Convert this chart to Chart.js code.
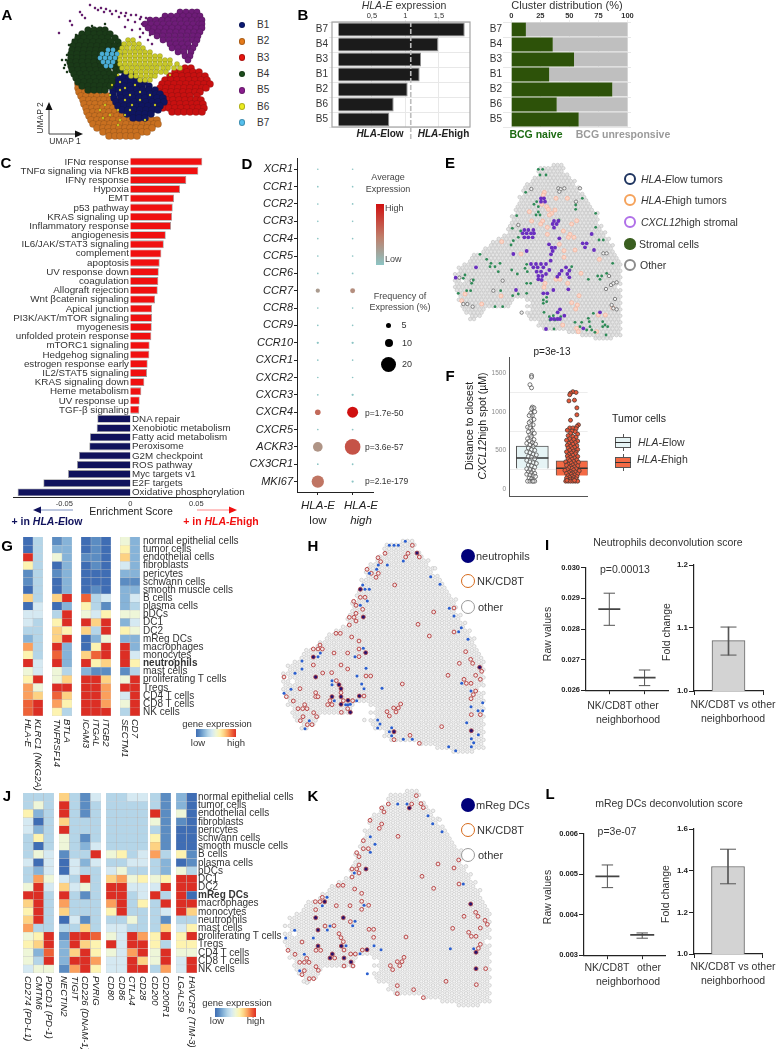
<!DOCTYPE html>
<html>
<head>
<meta charset="utf-8">
<script src="https://cdn.jsdelivr.net/npm/chart.js@4"></script>
<style>
body { margin: 0; background: #fff; }
#page { position: relative; width: 779px; height: 1049px; overflow: hidden; font-family: "Liberation Sans", Arial, sans-serif; color: #222; }
#page canvas { position: absolute; }
.t { position: absolute; white-space: nowrap; line-height: 1; }
.d { position: absolute; box-sizing: border-box; border-radius: 50%; }
.r { position: absolute; box-sizing: border-box; }
</style>
</head>
<body>
<div id="page"></div>
<script>
// ---- A: UMAP, rows of [umap2, umap1, umap1, ...]
const umapB1 = [[74,125,131],[78,117,123,129,135],[82,113,119,125,131,137,144],[86,112,118,124,130,136,142,149],[90,113,119,125,131,137,143,149,155],[94,113,120,126,132,138,144,150,156,160],[98,114,121,127,133,139,145,151,157,163],[102,116,122,128,134,140,146,152,158,164],[106,118,124,130,136,142,148,154,160],[110,122,128,134,140,146,152,158],[114,127,133,139,145,151],[118,133,139,145]];
const umapB2 = [[84,78,82],[88,78,83,88],[92,79,85,90,96],[96,81,86,92,97,103,108],[100,83,89,94,100,104,110,115],[104,84,90,95,101,106,110,116,121],[108,86,92,97,103,108,113,118,124],[112,87,93,98,104,109,115,120,124,129],[116,89,95,100,106,111,117,122,128,133,139],[120,91,97,102,108,113,119,124,130,135,141,147,152,157],[124,93,99,104,110,115,121,126,132,137,143,148,154,158],[128,97,103,108,114,119,125,130,136,141,147,152],[132,103,109,114,120,125,131,136,142,147],[136,109,115,120,126,131,137]];
const umapB3 = [[68,185,191],[72,175,181,187,193,199],[76,170,176,182,188,194,200,205],[80,165,171,177,183,189,195,201,207],[84,162,168,174,180,186,192,198,204,210],[88,160,166,172,178,184,190,196,202,206],[92,159,165,171,177,183,189,195,200],[96,160,166,172,178,184,190,197],[100,161,167,173,179,185,191,196,201],[104,162,168,174,180,186,192,197,203],[108,163,169,175,181,187,193,198,204],[112,172,178,184,190,196,202]];
const umapB4 = [[30,88,94,100,105],[34,82,88,94,100,106,110],[38,78,84,90,96,102,108,115],[42,75,81,87,93,99,105,111,118],[46,73,79,85,91,97,103,109,115,120],[50,72,78,84,90,96,102,108,114,118],[54,71,77,83,89,95,101,107,113,119],[58,71,77,83,89,95,101,106,112,118],[62,70,76,82,88,94,100,105,112,118],[66,71,77,83,89,95,101,107,114,119],[70,72,78,84,90,96,102,108,116,120],[74,74,80,86,92,98,104,110,115],[78,76,82,88,94,100,106,112],[82,78,84,90,96,102,108,112],[86,82,88,94,100,106,110],[90,88,94,100,105]];
const umapB4Stray = [[60,62,66],[65,65],[72,67],[45,69],[35,76],[26,92],[24,105],[55,67],[40,73],[68,64]];
const umapB5 = [[12,180,186,192,197],[16,165,171,177,183,189,195,200],[20,150,156,162,168,174,180,186,192,198,202],[24,145,151,157,163,169,175,181,187,193,199,202],[28,148,154,160,166,172,178,184,190,196,202],[32,152,158,164,170,176,182,188,194,200],[36,157,163,169,175,181,187,193,198],[40,163,169,175,181,187,193,197],[44,170,176,182,188,195],[48,172,178,184,190,193],[52,178,184,191],[56,185,190],[60,188]];
const umapB5Stray = [[8,95,101],[9,106],[11,110,116],[13,121,126],[15,131,136],[17,119,141],[18,146],[20,128],[22,135],[24,142],[27,125],[30,132],[33,143],[40,148],[44,152],[5,90],[15,82],[21,70],[33,59],[12,80],[18,85],[25,72],[10,98],[12,104],[14,112],[16,125],[19,140],[29,140],[37,140],[35,150]];
const umapB6 = [[40,128,133],[44,124,129,134,139],[48,122,127,133,138,143],[52,120,125,130,135,140,145,150],[56,120,125,130,135,140,145,150,155,160],[60,120,125,130,135,140,145,150,155,160,165,170],[64,120,125,130,135,140,145,150,155,160,165,170,177],[68,122,127,132,137,142,147,152,157,163,168,174,180],[72,126,131,136,141,146,151,156,161,166],[76,131,136,141,146,151,155],[80,140,145,150]];
const umapB6Stray = [[75,118],[85,112],[95,110],[90,120],[100,125],[105,105],[110,118],[95,130],[100,140],[120,120],[115,110],[110,130],[110,100],[85,135],[95,150],[105,155],[75,170],[120,145],[115,125],[88,125],[92,140],[105,132],[125,118],[118,103],[82,120]];
const umapB7 = [[50,108,113],[54,102,107,112,117],[58,100,105,110,115],[62,103,108,113],[66,106,111]];
const umapNames = ['B1', 'B2', 'B3', 'B4', 'B5', 'B6', 'B7'];

// ---- B
const bClusters = ['B7', 'B4', 'B3', 'B1', 'B2', 'B6', 'B5'];
const hlaEExpr = [1.885, 1.49, 1.233, 1.213, 1.034, 0.825, 0.76];
const hlaECut = 1.08;
const bcgNaive = [12.6, 35.7, 54, 32.6, 86.9, 39.1, 58];

// ---- C
const upPathways = ['IFNα response', 'TNFα signaling via NFkB', 'IFNγ response', 'Hypoxia', 'EMT', 'p53 pathway', 'KRAS signaling up', 'Inflammatory response', 'angiogenesis', 'IL6/JAK/STAT3 signaling', 'complement', 'apoptosis', 'UV response down', 'coagulation', 'Allograft rejection', 'Wnt βcatenin signaling', 'Apical junction', 'PI3K/AKT/mTOR signaling', 'myogenesis', 'unfolded protein response', 'mTORC1 signaling', 'Hedgehog signaling', 'estrogen response early', 'IL2/STAT5 signaling', 'KRAS signaling down', 'Heme metabolism', 'UV response up', 'TGF-β signaling'];
const upScores = [0.0545, 0.0515, 0.0424, 0.0376, 0.0331, 0.0321, 0.0316, 0.0308, 0.0268, 0.0253, 0.0235, 0.0222, 0.0215, 0.0212, 0.0207, 0.0187, 0.0164, 0.0164, 0.0162, 0.0159, 0.0146, 0.0144, 0.0131, 0.0126, 0.0106, 0.0083, 0.0071, 0.0068];
const downPathways = ['DNA repair', 'Xenobiotic metabolism', 'Fatty acid metabolism', 'Peroxisome', 'G2M checkpoint', 'ROS pathway', 'Myc targets v1', 'E2F targets', 'Oxidative phosphorylation'];
const downScores = [-0.025, -0.0255, -0.0306, -0.0311, -0.0389, -0.0404, -0.0472, -0.0659, -0.0854];

// ---- D
const dGenes = ['XCR1', 'CCR1', 'CCR2', 'CCR3', 'CCR4', 'CCR5', 'CCR6', 'CCR7', 'CCR8', 'CCR9', 'CCR10', 'CXCR1', 'CXCR2', 'CXCR3', 'CXCR4', 'CXCR5', 'ACKR3', 'CX3CR1', 'MKI67'];
const freqLow = [0.1, 0.1, 0.1, 0.1, 0.1, 0.1, 0.1, 4, 0.1, 0.1, 1, 0.1, 0.1, 0.3, 6, 0.1, 12, 0.2, 16];
const freqHigh = [0.1, 0.1, 0.2, 0.1, 0.1, 0.1, 0.3, 5, 0.1, 0.1, 1, 0.1, 0.1, 1, 14, 0.3, 21, 0.3, 1];
const exprLow = [0, 0, 0, 0, 0, 0, 0, 0.3, 0, 0, 0, 0, 0, 0, 0.6, 0, 0.35, 0, 0.55];
const exprHigh = [0, 0, 0, 0, 0, 0, 0, 0.4, 0, 0, 0, 0, 0, 0, 1, 0, 0.7, 0, 0];

// ---- E / H / K: Visium array. spans per row as [first col, last col, ...]
const tissueRows = [[26,28],[22,28],[22,24,25,28],[22,24,25,29],[21,30],[20,31],[19,31],[18,32],[18,32],[18,33],[17,34],[17,34],[17,35],[16,35],[16,36],[16,37],[15,37],[15,37],[15,37],[14,38],[14,38],[14,39],[13,39],[11,40],[10,40],[9,41],[8,41],[7,41],[5,42],[4,42],[4,43],[2,43],[1,43],[1,43],[0,43],[1,43],[0,1,3,43],[0,43],[0,42],[0,43],[1,43],[1,43],[1,15,19,43],[2,14,20,43],[2,14,19,43],[2,7,20,43],[3,7,19,43],[4,6,19,43],[4,5,20,43],[22,43],[22,43],[23,43],[30,43],[33,43],[37,41]];
const eGreen = [[325,58],[338,58],[330,75],[348,75],[287,127],[320,155],[312,163],[325,170],[325,186],[318,195],[330,195],[260,197],[247,235],[272,243],[265,262],[250,272],[243,285],[150,313],[170,328],[183,340],[195,350],[210,340],[180,350],[205,365],[130,390],[125,400],[105,375],[100,385],[85,430],[110,422],[122,422],[245,360],[262,372],[290,343],[285,355],[292,365],[290,400],[302,400],[265,432],[290,430],[212,422],[248,437],[340,450],[350,442],[350,455],[340,460],[195,470],[218,470],[342,487],[358,500],[370,497],[385,507],[392,500],[437,165],[437,178],[457,145],[497,190],[497,232],[507,270],[520,270],[475,388],[503,378],[515,378],[510,388],[548,340],[530,370],[420,360],[425,350],[475,505],[478,515],[455,517],[480,530],[470,540],[485,540],[495,547],[528,555],[518,515],[525,525],[533,530],[518,530],[372,537],[490,490],[435,517],[450,530],[387,210],[375,510],[360,510]];
const ePurple = [[333,145],[342,145],[333,155],[345,155],[372,213],[385,213],[368,222],[380,222],[372,233],[283,240],[295,240],[310,240],[278,250],[290,250],[303,250],[312,250],[283,262],[295,262],[308,262],[388,265],[357,283],[365,293],[375,293],[368,303],[363,313],[362,332],[290,303],[250,312],[138,352],[77,383],[458,280],[470,280],[465,292],[485,252],[492,300],[303,342],[318,342],[333,342],[348,342],[310,352],[323,352],[340,352],[358,360],[320,365],[333,365],[348,372],[325,378],[337,378],[325,388],[335,390],[408,352],[395,362],[418,362],[388,372],[412,372],[382,380],[418,382],[258,420],[340,430],[352,430],[370,420],[415,418],[390,478],[383,487],[403,497],[363,507],[372,507],[382,507],[390,507],[348,537],[460,535],[510,487]];
const ePink = [[343,127],[340,135],[378,145],[412,145],[335,163],[350,170],[355,178],[375,180],[365,190],[358,195],[298,185],[305,213],[338,213],[332,222],[352,232],[425,222],[440,212],[400,243],[352,253],[420,253],[415,262],[432,262],[388,283],[215,275],[273,312],[402,302],[435,300],[402,322],[508,328],[453,370],[378,388],[390,388],[345,400],[342,412],[413,400],[213,438],[105,432],[95,452],[155,462],[425,458],[447,437],[442,465],[437,477],[505,495],[526,495],[548,473],[398,525],[440,535],[445,545],[500,545]];
const eGray = [[304,117],[385,115],[392,118],[403,115],[388,125],[438,155],[265,225],[218,392],[190,422],[88,383],[100,462],[112,462],[128,470],[125,392],[520,310],[530,310],[537,378],[528,417],[543,405],[550,400],[560,397],[555,447],[545,465],[550,475],[560,478],[275,488],[450,115]];
const hBlue = [[358,46],[372,46],[385,46],[406,34],[400,93],[352,105],[325,105],[298,130],[320,118],[278,165],[298,178],[285,178],[292,213],[271,226],[482,140],[510,163],[538,235],[552,258],[574,293],[566,305],[594,328],[280,355],[255,380],[151,369],[144,380],[96,393],[96,417],[75,430],[288,415],[261,438],[275,462],[186,452],[186,464],[63,478],[42,490],[282,476],[336,475],[193,512],[234,524],[227,524],[241,523],[260,512],[118,572],[105,596],[323,570],[330,582],[323,594],[365,593],[358,605],[365,617],[400,628],[427,628],[536,650],[557,662],[604,650],[611,638],[604,626],[625,614],[590,578],[603,530],[575,460],[603,483],[638,518],[624,542],[638,542]];
const hBoth = [[441,69],[271,178],[280,261],[287,368],[130,381],[137,441],[207,464],[213,476],[186,500],[213,500],[268,498],[234,511],[213,523],[241,547],[372,605],[604,602],[629,412]];
const hRing = [[427,46],[345,70],[414,70],[407,81],[448,81],[324,83],[332,95],[291,118],[304,130],[325,130],[318,142],[374,165],[271,202],[285,202],[251,214],[258,226],[278,238],[258,250],[238,262],[252,262],[258,273],[238,285],[198,310],[211,310],[245,321],[267,333],[267,357],[150,345],[130,357],[144,357],[157,357],[192,369],[233,369],[267,380],[130,405],[213,405],[233,417],[185,428],[158,429],[42,441],[288,438],[302,438],[199,452],[90,476],[397,462],[213,488],[137,488],[137,500],[144,500],[49,500],[70,513],[180,512],[173,524],[186,524],[220,512],[248,512],[282,498],[104,524],[84,536],[98,536],[111,536],[233,536],[131,548],[214,547],[99,560],[140,560],[91,572],[112,584],[126,584],[392,522],[371,534],[385,534],[378,546],[351,545],[358,558],[491,246],[552,234],[444,283],[478,318],[552,306],[587,365],[602,388],[608,400],[568,400],[635,424],[617,436],[534,436],[582,448],[589,460],[603,460],[631,448],[617,483],[610,494],[603,506],[631,554],[604,554],[515,590],[420,616],[372,629],[448,640]];
const hStray = [[495,115],[283,570]];
const kBlue = [[383,42],[411,42],[474,77],[488,101],[516,125],[301,140],[315,163],[301,187],[253,249],[580,282],[171,322],[282,346],[157,347],[255,394],[248,407],[180,408],[172,420],[130,444],[74,421],[47,444],[228,467],[312,467],[333,479],[270,491],[103,493],[89,542],[292,551],[541,476],[611,476]];
const kBoth = [[418,54],[288,237],[164,335],[137,383],[220,383],[144,420],[144,468],[214,468],[291,479],[187,492],[180,504],[222,504],[243,516],[602,342],[618,487],[618,536]];
const kRing = [[439,17],[425,42],[453,41],[460,53],[355,42],[335,54],[342,66],[300,91],[335,102],[328,115],[384,139],[280,152],[280,176],[295,176],[260,188],[267,200],[267,225],[246,237],[260,237],[267,249],[246,261],[504,222],[552,234],[566,210],[456,259],[491,295],[567,282],[205,286],[219,286],[254,297],[275,310],[157,322],[136,335],[150,335],[275,334],[199,347],[240,347],[296,346],[137,359],[275,358],[241,395],[192,407],[165,408],[311,418],[297,418],[207,431],[213,443],[311,442],[408,441],[96,456],[220,455],[222,480],[54,481],[138,481],[152,481],[277,480],[75,493],[242,492],[256,492],[194,504],[110,505],[89,517],[103,517],[117,517],[222,528],[249,528],[138,530],[103,542],[145,541],[96,554],[118,566],[131,566],[402,502],[382,515],[396,515],[389,527],[361,527],[368,539],[528,574],[382,587],[431,599],[382,611],[460,623],[647,536],[619,584],[617,367],[624,379],[582,379],[645,391],[652,403],[631,414],[548,415],[596,427],[604,439],[618,439],[631,463],[625,475]];
const kStray = [[509,89],[111,578]];

// ---- F
const fTicks = [0, 500, 1000, 1500];
const fBoxLow = [264, 400, 556];
const fBoxHigh = [172, 268, 364];
const fWhiskLow = [100, 1060];
const fWhiskHigh = [100, 790];
const fPointsLow = [[0.98,1470],[0.98,1450],[0.94,1350],[0.98,1310],[1.0,1060],[1.04,1050],[0.98,1040],[1.06,1000],[0.96,980],[1.0,950],[0.92,950],[1.04,900],[0.96,880],[0.92,860],[1.02,830],[0.88,800],[0.94,790],[1.0,760],[0.9,740],[1.05,720],[0.94,700],[0.98,680],[0.88,650],[1.04,640],[0.92,620],[1.0,600],[0.86,590],[1.08,580],[0.94,570],[1.02,550],[0.9,530],[0.98,510],[1.06,500],[0.86,480],[0.94,470],[1.02,450],[1.1,440],[0.9,420],[0.98,410],[1.06,390],[0.86,370],[0.94,350],[1.02,340],[1.1,330],[0.9,310],[0.98,300],[1.06,280],[0.86,260],[0.94,250],[1.02,240],[0.9,220],[0.98,210],[1.06,200],[0.86,190],[0.94,180],[1.02,170],[1.08,160],[0.92,140],[0.98,130],[0.88,100],[0.94,100],[1.0,100],[1.06,100],[1.02,100]];
const fPointsHigh = [[2.02,1260],[2.1,1250],[1.96,1240],[1.94,1220],[1.92,1140],[2.06,1150],[2.12,1050],[2.12,960],[1.96,890],[2.16,830],[2.12,810],[1.94,790],[2.02,790],[2.1,780],[1.88,760],[2.0,750],[2.08,740],[1.96,720],[2.14,710],[1.9,690],[2.02,680],[2.1,670],[1.94,650],[2.04,640],[1.86,630],[2.14,620],[1.98,610],[2.08,600],[1.92,590],[2.02,580],[1.88,565],[2.12,560],[1.96,550],[2.06,540],[1.9,530],[2.0,520],[2.14,510],[1.94,500],[2.04,490],[1.86,480],[2.1,475],[1.98,465],[2.08,455],[1.92,445],[2.02,435],[1.88,425],[2.14,420],[1.96,410],[2.06,400],[1.9,390],[2.0,385],[2.12,375],[1.94,365],[2.04,355],[1.84,350],[2.16,345],[1.98,335],[2.08,325],[1.9,320],[2.02,310],[1.86,305],[2.14,300],[1.96,290],[2.06,285],[1.92,275],[2.0,265],[2.1,260],[1.88,250],[2.04,245],[1.82,240],[2.18,235],[1.96,225],[2.08,220],[1.92,210],[2.02,205],[1.86,200],[2.14,195],[1.98,190],[2.06,180],[1.9,170],[2.0,165],[2.12,160],[1.94,150],[2.04,145],[1.86,140],[2.1,130],[1.96,125],[2.02,120],[1.84,100],[1.9,100],[1.96,100],[2.02,100],[2.08,100],[2.14,100],[1.87,110],[2.06,110]];

// ---- G / J heatmaps: one colour level (0 blue .. 10 red) per cell type
const cellTypes = ['normal epithelial cells', 'tumor cells', 'endothelial cells', 'fibroblasts', 'pericytes', 'schwann cells', 'smooth muscle cells', 'B cells', 'plasma cells', 'pDCs', 'DC1', 'DC2', 'mReg DCs', 'macrophages', 'monocytes', 'neutrophils', 'mast cells', 'proliferating T cells', 'Tregs', 'CD4 T cells', 'CD8 T cells', 'NK cells'];
const HLAE    = [0,0,10,6,1,1,0,7,0,4,4,3,2,8,6,10,5,6,8,8,9,9];
const KLRC1   = [3,3,3,3,3,3,3,3,4,4,3,3,3,3,3,4,4,10,5,7,10,10];
const TNFRSF14 = [1,2,5,0,1,0,0,7,0,3,6,7,7,10,9,10,5,5,10,9,8,6];
const BTLA    = [2,2,2,2,2,2,2,10,2,10,10,6,10,2,2,2,3,7,10,7,6,3];
const ICAM3   = [0,0,1,0,0,0,0,9,6,5,10,7,0,0,7,10,2,10,10,10,10,10];
const ITGAL   = [1,1,1,1,0,0,1,3,3,4,7,3,2,6,9,6,1,10,10,10,10,10];
const ITGB2   = [0,0,0,0,0,0,0,4,1,6,10,10,5,10,10,7,1,7,8,8,8,10];
const SECTM1  = [5,6,7,4,2,1,2,2,2,5,2,6,2,10,10,10,1,5,10,4,5,3];
const CD7     = [2,2,2,2,2,1,2,4,3,5,4,5,2,2,4,6,3,10,10,10,10,10];
const CD274   = [3,3,6,4,4,3,3,3,4,3,3,5,10,7,6,7,8,5,6,5,5,4];
const CMTM6   = [3,5,2,0,2,6,0,5,0,2,8,10,10,10,10,10,3,6,7,2,3,5];
const PDCD1   = [3,3,3,3,3,3,3,4,4,4,5,4,3,3,3,3,3,10,10,9,10,5];
const NECTIN2 = [7,10,10,7,10,5,5,1,0,0,4,7,10,8,7,0,3,1,2,2,2,1];
const TIGIT   = [3,3,3,3,3,3,3,3,4,4,3,4,3,3,3,4,3,10,10,7,10,8];
const CD226   = [1,1,1,3,3,1,2,3,2,3,10,5,1,3,3,1,7,10,7,10,10,10];
const PVRIG   = [4,3,3,3,3,3,4,10,4,3,3,3,3,3,3,3,3,9,6,6,8,6];
const CD80    = [3,3,3,3,3,3,3,5,3,4,7,10,10,8,6,3,4,5,10,5,4,4];
const CD86    = [3,3,3,3,3,3,3,6,3,5,8,10,10,10,10,3,4,4,4,4,4,4];
const CTLA4   = [4,3,3,3,3,3,3,3,4,3,5,4,3,3,3,5,3,10,10,8,10,10];
const CD28    = [4,3,3,3,3,3,3,4,4,3,6,4,4,6,3,3,3,8,10,10,7,10];
const CD200   = [3,3,10,5,3,6,7,8,3,3,5,4,10,3,3,3,3,6,6,5,5,3];
const CD200R1 = [1,1,1,1,1,1,1,3,2,2,6,10,3,10,4,1,7,10,3,10,10,8];
const LGALS9  = [2,2,5,1,0,0,0,6,0,5,10,10,10,10,10,3,4,6,6,5,4,4];
const HAVCR2  = [0,0,0,0,0,0,0,1,1,3,10,10,0,10,7,3,6,10,6,5,10,10];
const heatColors = ['#3f6db4', '#5b8cc2', '#86b3d8', '#b4d5e8', '#d5e9f2', '#eef6d8', '#fdf3b0', '#fdd283', '#fb9f5c', '#ee6238', '#dc2e24'];

// ---- I / L
const iRaw = [0.02865, 0.02641];
const iRawLo = [0.02812, 0.02615];
const iRawHi = [0.02917, 0.02666];
const iFold = [1.08, 1.057, 1.1015];
const lRaw = [0.00495, 0.0035];
const lRawLo = [0.00467, 0.00342];
const lRawHi = [0.00523, 0.00355];
const lFold = [1.42, 1.337, 1.503];

// ---- helpers
const page = document.getElementById('page');
const PAD = 12;
Chart.defaults.font.family = '"Liberation Sans", Arial, sans-serif';

function txt(html, x, y, o) {
    o = o || {};
    const e = document.createElement('div');
    e.className = 't';
    e.innerHTML = html;
    e.style.left = x + 'px';
    e.style.top = y + 'px';
    e.style.fontSize = (o.size || 10) + 'px';
    if (o.color) e.style.color = o.color;
    if (o.bold) e.style.fontWeight = 'bold';
    if (o.italic) e.style.fontStyle = 'italic';
    if (o.start) {
        // rotated text that starts at x,y and runs downward
        e.style.transformOrigin = '0 50%';
        e.style.transform = 'translateY(-50%) rotate(90deg)';
    } else {
        const shift = o.align === 'l' ? '0' : o.align === 'r' ? '-100%' : '-50%';
        e.style.transform = 'translate(' + shift + ',-50%)' + (o.rotate ? ' rotate(' + o.rotate + 'deg)' : '');
    }
    page.appendChild(e);
}
function dot(x, y, r, fill, border, bw) {
    const e = document.createElement('div');
    e.className = 'd';
    e.style.cssText = 'left:' + (x - r) + 'px;top:' + (y - r) + 'px;width:' + 2 * r + 'px;height:' + 2 * r + 'px;background:' + fill + ';' + (border ? 'border:' + bw + 'px solid ' + border + ';' : '');
    page.appendChild(e);
}
function rect(x, y, w, h, css) {
    const e = document.createElement('div');
    e.className = 'r';
    e.style.cssText = 'left:' + x + 'px;top:' + y + 'px;width:' + w + 'px;height:' + h + 'px;' + css;
    page.appendChild(e);
}
function arrow(x1, y1, x2, y2, color, lineColor) {
    const ns = 'http://www.w3.org/2000/svg';
    const s = document.createElementNS(ns, 'svg');
    s.setAttribute('width', 779);
    s.setAttribute('height', 1049);
    s.style.cssText = 'position:absolute;left:0;top:0';
    const a = Math.atan2(y2 - y1, x2 - x1);
    const l = document.createElementNS(ns, 'line');
    l.setAttribute('x1', x1); l.setAttribute('y1', y1);
    l.setAttribute('x2', x2 - 6 * Math.cos(a)); l.setAttribute('y2', y2 - 6 * Math.sin(a));
    l.setAttribute('stroke', lineColor || color); l.setAttribute('stroke-width', 1);
    const p = document.createElementNS(ns, 'polygon');
    const pts = [[x2, y2], [x2 - 8 * Math.cos(a) + 3.5 * Math.sin(a), y2 - 8 * Math.sin(a) - 3.5 * Math.cos(a)], [x2 - 8 * Math.cos(a) - 3.5 * Math.sin(a), y2 - 8 * Math.sin(a) + 3.5 * Math.cos(a)]];
    p.setAttribute('points', pts.map(q => q.join(',')).join(' '));
    p.setAttribute('fill', color);
    s.appendChild(l); s.appendChild(p);
    page.appendChild(s);
}
// plot area is given in page pixels, a = room for the axes on left/top/bottom
function place(l, t, r, b, a, cfg) {
    l = Math.round(l); t = Math.round(t); r = Math.round(r); b = Math.round(b);
    const L = a.l || 0, T = a.t || 0, B = a.b || 0;
    const c = document.createElement('canvas');
    c.width = r - l + 2 * PAD + L;
    c.height = b - t + 2 * PAD + T + B;
    c.style.left = (l - PAD - L) + 'px';
    c.style.top = (t - PAD - T) + 'px';
    page.appendChild(c);
    cfg.options = Object.assign({
        responsive: false,
        animation: false,
        layout: { padding: PAD },
        plugins: { legend: { display: false }, tooltip: { enabled: false } }
    }, cfg.options);
    return new Chart(c, cfg);
}
// scale pixels are relative to the canvas, labels live on the page
function pageX(ch, v) { return ch.canvas.offsetLeft + ch.scales.x.getPixelForValue(v); }
function pageY(ch, v) { return ch.canvas.offsetTop + ch.scales.y.getPixelForValue(v); }
function fit(size) {
    return s => { if (s.isHorizontal()) s.height = size; else s.width = size; };
}
function blank(min, max, reverse) {
    return { type: 'linear', min: min, max: max, reverse: !!reverse, ticks: { display: false }, grid: { display: false }, border: { display: false }, afterFit: fit(0) };
}
function pairs(list) { return list.map(p => ({ x: p[0], y: p[1] })); }
function rows(list) {
    const out = [];
    list.forEach(row => row.slice(1).forEach(x => out.push({ x: x, y: row[0] })));
    return out;
}
// teal -> brown -> red, same ramp as the legend bar in D
function exprColor(t) {
    const a = [140, 196, 196], m = [190, 128, 108], b = [208, 16, 16];
    const from = t < 0.5 ? a : m, to = t < 0.5 ? m : b, f = t < 0.5 ? t * 2 : t * 2 - 1;
    return 'rgb(' + from.map((v, i) => Math.round(v + (to[i] - v) * f)).join(',') + ')';
}
const frame = color => ({
    id: 'frame',
    afterDraw(chart) {
        const a = chart.chartArea, c = chart.ctx;
        c.save();
        c.strokeStyle = color;
        c.lineWidth = 1.2;
        c.strokeRect(a.left, a.top, a.right - a.left, a.bottom - a.top);
        c.restore();
    }
});

// ---- A
function umapSet(list, fill, r) {
    return { data: rows(list), pointRadius: r, pointBackgroundColor: fill, pointBorderColor: 'rgba(20,20,20,.35)', pointBorderWidth: 0.4 };
}
place(50, 0, 220, 145, {}, {
    type: 'scatter',
    data: { datasets: [
        umapSet(umapB7, '#4bb0d8', 2.4),
        umapSet(umapB6Stray, '#d8d820', 1.2),
        umapSet(umapB6, '#c8c828', 2.6),
        umapSet(umapB5Stray, '#6e1c78', 1.2),
        umapSet(umapB5, '#6e1c78', 3.2),
        umapSet(umapB4Stray, '#1a3a18', 1.2),
        umapSet(umapB4, '#1a3a18', 3.5),
        umapSet(umapB1, '#0f1560', 3.6),
        umapSet(umapB3, '#c81010', 3.6),
        umapSet(umapB2, '#c97020', 3.6)
    ] },
    options: { scales: { x: blank(50, 220), y: blank(0, 145, true) } }
});
const umapLegend = ['#0b1a75', '#e57a1a', '#e8140f', '#1c4d1c', '#8a1d8e', '#ecec20', '#55c0ee'];
umapNames.forEach((n, i) => {
    const y = 25 + i * 16.3;
    dot(242, y, 3.4, umapLegend[i], 'rgba(0,0,0,.25)', 0.5);
    txt(n, 257, y, { size: 10, align: 'l', color: '#333' });
});
arrow(49, 134, 49, 102, '#111', '#444');
arrow(49, 134, 83, 134, '#111', '#444');
txt('UMAP 2', 40, 118, { size: 8.5, rotate: -90, color: '#333' });
txt('UMAP 1', 65, 141, { size: 8.5, color: '#333' });

// ---- B
const hlaCutLine = {
    id: 'cut',
    afterDraw(chart) {
        const c = chart.ctx, x = chart.scales.x.getPixelForValue(hlaECut);
        c.save();
        c.strokeStyle = '#bdbdbd';
        c.lineWidth = 1.6;
        c.setLineDash([5, 2]);
        c.beginPath(); c.moveTo(x, chart.chartArea.top); c.lineTo(x, chart.chartArea.bottom + 12); c.stroke();
        c.restore();
    }
};
function clusterAxis() {
    return { type: 'category', ticks: { color: '#333', font: { size: 10 }, padding: 1 }, grid: { color: '#e8e8e8', tickLength: 3 }, border: { display: false }, afterFit: fit(24) };
}
place(332, 22, 470, 127, { l: 24, t: 12 }, {
    type: 'bar',
    data: { labels: bClusters, datasets: [{ data: hlaEExpr, backgroundColor: '#1b1b1b', borderColor: '#8f8f8f', borderWidth: 1, barPercentage: 0.92, categoryPercentage: 1 }] },
    plugins: [frame('#a3a3a3'), hlaCutLine],
    options: {
        indexAxis: 'y',
        scales: {
            y: clusterAxis(),
            x: {
                type: 'linear', position: 'top', min: -0.095, max: 1.964,
                afterBuildTicks: s => { s.ticks = [{ value: 0.5 }, { value: 1 }, { value: 1.5 }]; },
                ticks: { color: '#333', font: { size: 7.5 }, padding: 0, callback: v => String(v).replace('.', ',') },
                grid: { color: '#e8e8e8', tickLength: 2 }, border: { display: false }, afterFit: fit(12)
            }
        }
    }
});
const bcgRest = bcgNaive.map(v => 100 - v);
place(506, 22, 631, 127, { l: 24, t: 12 }, {
    type: 'bar',
    data: { labels: bClusters, datasets: [
        { data: bcgNaive, backgroundColor: '#2d5209', barPercentage: 0.92, categoryPercentage: 1 },
        { data: bcgRest, backgroundColor: '#bfbfbf', barPercentage: 0.92, categoryPercentage: 1 }
    ] },
    options: {
        indexAxis: 'y',
        scales: {
            y: Object.assign(clusterAxis(), { stacked: true }),
            x: {
                type: 'linear', position: 'top', min: -4.5, max: 103, stacked: true,
                afterBuildTicks: s => { s.ticks = [0, 25, 50, 75, 100].map(v => ({ value: v })); },
                ticks: { color: '#333', font: { size: 7.5, weight: 'bold' }, padding: 0 },
                grid: { color: '#ededed', tickLength: 2 }, border: { display: false }, afterFit: fit(12)
            }
        }
    }
});
txt('<i>HLA-E</i> expression', 404, 5, { size: 10.5, color: '#333' });
txt('Cluster distribution (%)', 567, 5, { size: 11, color: '#333' });
txt('<i>HLA-E</i>low', 380, 134, { size: 10, bold: true });
txt('<i>HLA-E</i>high', 443.5, 134, { size: 10, bold: true });
txt('BCG naive', 536, 134, { size: 10.5, bold: true, color: '#1c6b12' });
txt('BCG unresponsive', 623, 134, { size: 10.5, bold: true, color: '#9a9a9a' });

// ---- C
const pathwayNames = upPathways.concat(downPathways);
const pathwayScores = upScores.concat(downScores);
const cChart = place(13, 157, 211, 497, { b: 12 }, {
    type: 'bar',
    data: { labels: pathwayNames, datasets: [{
        data: pathwayScores,
        backgroundColor: pathwayScores.map(v => v > 0 ? '#f01010' : '#10125c'),
        borderColor: '#9a9a9a', borderWidth: 0.8, barPercentage: 0.86, categoryPercentage: 1
    }] },
    options: {
        indexAxis: 'y',
        scales: {
            y: { type: 'category', ticks: { display: false }, grid: { display: false }, border: { display: false }, afterFit: fit(0) },
            x: {
                type: 'linear', min: -0.0889, max: 0.0611,
                afterBuildTicks: s => { s.ticks = [{ value: -0.05 }, { value: 0 }, { value: 0.05 }]; },
                ticks: { color: '#333', font: { size: 7.5 }, padding: 0, callback: v => v === 0 ? '0' : String(v) },
                grid: { display: false, tickLength: 2 }, border: { color: '#222', width: 1 }, afterFit: fit(12)
            }
        }
    }
});
pathwayNames.forEach((n, i) => {
    const y = pageY(cChart, i);
    if (pathwayScores[i] > 0) txt(n, 129, y, { size: 9.8, align: 'r', color: '#333' });
    else txt(n, 132, y, { size: 9.8, align: 'l', color: '#333' });
});
txt('Enrichment Score', 131, 511, { size: 10.5, color: '#222' });
arrow(73, 510, 33, 510, '#10125c', '#7a8fc0');
arrow(197, 510, 237, 510, '#f01010', '#f88');
txt('+ in <i>HLA-E</i>low', 47, 521, { size: 10.5, bold: true, color: '#10125c' });
txt('+ in <i>HLA-E</i>high', 221, 521, { size: 10.5, bold: true, color: '#f01010' });

// ---- D
function freqRadius(f) { return 0.8 + 0.335 * f; }
function dPoints(x, freq, expr) {
    return { data: dGenes.map((g, i) => ({ x: x, y: i, r: freqRadius(freq[i]) })), backgroundColor: expr.map(exprColor), borderWidth: 0 };
}
place(297, 158, 373, 492, { l: 50 }, {
    type: 'bubble',
    data: { datasets: [dPoints(1, freqLow, exprLow), dPoints(2, freqHigh, exprHigh)] },
    options: {
        scales: {
            x: {
                type: 'linear', min: 0.403, max: 2.585,
                afterBuildTicks: s => { s.ticks = [{ value: 1 }, { value: 2 }]; },
                ticks: { callback: () => '', padding: 0 },
                grid: { drawOnChartArea: false, tickLength: 3, color: '#222' }, border: { color: '#222', width: 1 }, afterFit: fit(0)
            },
            y: {
                type: 'linear', reverse: true, min: -0.65, max: 18.6,
                afterBuildTicks: s => { s.ticks = dGenes.map((g, i) => ({ value: i })); },
                ticks: { callback: v => dGenes[v], color: '#222', font: { size: 11, style: 'italic' }, padding: 1, autoSkip: false },
                grid: { drawOnChartArea: false, tickLength: 3, color: '#222' }, border: { color: '#222', width: 1 }, afterFit: fit(50)
            }
        }
    }
});
txt('<i>HLA-E</i>', 318, 506, { size: 11.5 });
txt('low', 318, 521, { size: 11.5 });
txt('<i>HLA-E</i>', 361, 506, { size: 11.5 });
txt('<i>high</i>', 361, 521, { size: 11.5 });
txt('Average', 388, 177, { size: 9, color: '#444' });
txt('Expression', 388, 189, { size: 9, color: '#444' });
rect(376, 204, 7.5, 61, 'background:linear-gradient(#d01010,#be806c 55%,#8cc4c4)');
txt('High', 385, 208, { size: 9, align: 'l', color: '#444' });
txt('Low', 385, 259, { size: 9, align: 'l', color: '#444' });
txt('Frequency of', 400, 296, { size: 9, color: '#444' });
txt('Expression (%)', 400, 307, { size: 9, color: '#444' });
dot(388.7, 325.3, 2.5, '#000');
dot(388.7, 343.3, 4.2, '#000');
dot(388.7, 364.3, 7.8, '#000');
txt('5', 404, 325, { size: 9, color: '#333' });
txt('10', 407, 343, { size: 9, color: '#333' });
txt('20', 407, 364, { size: 9, color: '#333' });
txt('p=1.7e-50', 365, 413, { size: 8.5, align: 'l', color: '#333' });
txt('p=3.6e-57', 365, 447, { size: 8.5, align: 'l', color: '#333' });
txt('p=2.1e-179', 365, 481, { size: 8.5, align: 'l', color: '#333' });

// ---- E / H / K
function tissueSpots(x0, y0, px, py, extra) {
    const out = [];
    tissueRows.forEach((spans, r) => {
        for (let k = 0; k < spans.length; k += 2) {
            for (let c = spans[k]; c <= spans[k + 1]; c++) {
                out.push({ x: x0 + (c + (r % 2) * 0.5) * px, y: y0 + r * py });
            }
        }
    });
    (extra || []).forEach(p => out.push({ x: p[0], y: p[1] }));
    return out;
}
function spotMap(l, t, w, h, sets) {
    place(l, t, l + w, t + h, {}, {
        type: 'scatter',
        data: { datasets: sets },
        options: { scales: { x: blank(0, w * 3), y: blank(0, h * 3, true) } }
    });
}
function spots(data, r, fill, border, bw) {
    return { data: data, pointRadius: r, pointBackgroundColor: fill, pointBorderColor: border, pointBorderWidth: bw, clip: false };
}
spotMap(430, 150, 340, 190, [
    spots(pairs(ePurple), 1.9, '#6a2fc0', '#6a2fc0', 0),
    spots(pairs(eGreen), 1.4, '#2e8b57', '#2e8b57', 0),
    spots(pairs(eGray), 1.7, '#f0f0f0', '#6a6a6a', 0.8),
    spots(pairs(ePink), 2, '#fbd6c8', '#f6b6a0', 0.8),
    spots(tissueSpots(75, 45, 11.4, 9.63), 1.75, '#e4e4e4', '#c4c4c4', 0.7)
]);
[['#1f3560', '<i>HLA-E</i>low tumors', 179], ['#f5a35c', '<i>HLA-E</i>high tumors', 200], ['#b070e8', '<i>CXCL12</i>high stromal', 222]].forEach(d => {
    dot(630, d[2], 6, '#fff', d[0], 2.6);
    txt(d[1], 641, d[2], { size: 10.5, align: 'l', color: '#333' });
});
dot(630, 244, 5.6, '#3a5f20');
txt('Stromal cells', 639, 244, { size: 10.5, align: 'l', color: '#333' });
dot(630, 265, 6, '#fff', '#8c8c8c', 2.6);
txt('Other', 640, 265, { size: 10.5, align: 'l', color: '#333' });

function neighbourhoodSets(ring, blue, both, tissue) {
    return [
        spots(pairs(both), 2, '#27136e', '#b84848', 0.8),
        spots(pairs(blue), 1.5, '#2a5fd0', '#2a5fd0', 0),
        spots(pairs(ring), 1.9, '#f2e6e6', '#b84848', 1),
        spots(tissue, 1.8, '#f0f0f0', '#c6c6c6', 0.7)
    ];
}
spotMap(270, 530, 250, 250, neighbourhoodSets(hRing, hBlue, hBoth, tissueSpots(40, 33, 13.8, 11.7, hStray)));
spotMap(270, 790, 250, 250, neighbourhoodSets(kRing, kBlue, kBoth, tissueSpots(45, 3, 14.1, 11.9, kStray)));
function mapLegend(name, y0, y1, y2) {
    dot(467.7, y0, 7, '#00007a');
    txt(name, 476, y0, { size: 11, align: 'l', color: '#333' });
    dot(467.7, y1, 7, '#fff', '#d56a1c', 1.4);
    txt('NK/CD8T', 477, y1, { size: 11, align: 'l', color: '#333' });
    dot(467.7, y2, 7, '#fff', '#999', 1.4);
    txt('other', 478, y2, { size: 11, align: 'l', color: '#333' });
}
mapLegend('neutrophils', 556, 581, 607);
mapLegend('mReg DCs', 805, 830, 855);

// ---- F
const whisker = (x, pair) => ({ type: 'line', data: [{ x: x, y: pair[0] }, { x: x, y: pair[1] }], borderColor: '#555', borderWidth: 1, pointRadius: 0, order: 4 });
const medianSet = (x, v) => ({ type: 'scatter', data: [{ x: x, y: v }], pointStyle: 'line', pointRadius: 16, pointBorderColor: '#333', pointBorderWidth: 1.4, order: 2 });
place(509, 352, 593, 502, { l: 24 }, {
    data: { datasets: [
        { type: 'scatter', data: pairs(fPointsLow), pointRadius: 2, pointBackgroundColor: 'rgba(255,255,255,.45)', pointBorderColor: '#555', pointBorderWidth: 0.8, order: 1 },
        { type: 'scatter', data: pairs(fPointsHigh), pointRadius: 2, pointBackgroundColor: '#e8583a', pointBorderColor: '#4a3a34', pointBorderWidth: 0.8, order: 1 },
        medianSet(1, fBoxLow[1]),
        medianSet(2, fBoxHigh[1]),
        { type: 'bar', data: [{ x: 1, y: [fBoxLow[0], fBoxLow[2]] }, { x: 2, y: [fBoxHigh[0], fBoxHigh[2]] }], backgroundColor: ['#e6f4f5', '#f46a45'], borderColor: '#555', borderWidth: 1, barThickness: 32, grouped: false, order: 3 },
        whisker(1, fWhiskLow),
        whisker(2, fWhiskHigh)
    ] },
    options: {
        scales: {
            x: { type: 'linear', offset: false, min: 0.413, max: 2.39, ticks: { display: false }, grid: { display: false }, border: { color: '#555', width: 1 }, afterFit: fit(0) },
            y: {
                type: 'linear', min: -100, max: 1704,
                afterBuildTicks: s => { s.ticks = fTicks.concat([250, 750, 1250]).sort((a, b) => a - b).map(v => ({ value: v })); },
                ticks: { callback: v => fTicks.includes(v) ? String(v) : '', color: '#8a8a8a', font: { size: 6.5 }, padding: 3, autoSkip: false },
                grid: { color: c => c.tick && fTicks.includes(c.tick.value) ? 'rgba(0,0,0,0)' : '#ededed', tickLength: 0 }, border: { color: '#555', width: 1 }, afterFit: fit(24)
            }
        }
    }
});
txt('p=3e-13', 552, 352, { size: 10, color: '#222' });
txt('Distance to closest', 469, 426, { size: 10.5, rotate: -90 });
txt('<i>CXCL12</i>high spot (µM)', 482, 426, { size: 10.5, rotate: -90 });
txt('Tumor cells', 639, 418, { size: 10.5, color: '#222' });
function boxIcon(y, fill) {
    rect(622.5, y - 8.5, 1, 17, 'background:#555');
    rect(615, y - 5.5, 16, 11, 'background:' + fill + ';border:1px solid #555');
    rect(615, y - 0.5, 16, 1, 'background:#333');
}
boxIcon(442, '#e6f4f5');
boxIcon(462, '#f46a45');
txt('<i>HLA-E</i>low', 638, 442, { size: 10.5, align: 'l', color: '#333' });
txt('<i>HLA-E</i>high', 637, 459, { size: 10.5, align: 'l', color: '#333' });

// ---- G / J
function heatGroup(l, r, t, b, genes) {
    const sets = cellTypes.map((c, i) => ({
        data: genes.map(() => [i, i + 1]),
        backgroundColor: genes.map(g => heatColors[g.values[i]]),
        borderColor: 'rgba(140,140,140,.45)', borderWidth: 0.5,
        barPercentage: 1, categoryPercentage: 1, grouped: false
    }));
    const ch = place(l, t, r, b, {}, {
        type: 'bar',
        data: { labels: genes.map(g => g.name), datasets: sets },
        options: { scales: {
            x: { type: 'category', ticks: { display: false }, grid: { display: false }, border: { display: false }, afterFit: fit(0) },
            y: blank(0, cellTypes.length, true)
        } }
    });
    genes.forEach((g, i) => {
        txt(g.label || g.name, pageX(ch, i), b + 3, { size: 9.5, start: true, italic: true, color: '#222' });
    });
    return ch;
}
const g1 = heatGroup(23, 43, 537, 716, [{ name: 'HLA-E', values: HLAE }, { name: 'KLRC1', label: 'KLRC1 (NKG2A)', values: KLRC1 }]);
heatGroup(52, 72, 537, 716, [{ name: 'TNFRSF14', values: TNFRSF14 }, { name: 'BTLA', values: BTLA }]);
heatGroup(81, 111, 537, 716, [{ name: 'ICAM3', values: ICAM3 }, { name: 'ITGAL', values: ITGAL }, { name: 'ITGB2', values: ITGB2 }]);
heatGroup(120, 140, 537, 716, [{ name: 'SECTM1', values: SECTM1 }, { name: 'CD7', values: CD7 }]);
const j1 = heatGroup(23, 54, 793, 973, [{ name: 'CD274', label: 'CD274 (PD-L1)', values: CD274 }, { name: 'CMTM6', values: CMTM6 }, { name: 'PDCD1', label: 'PDCD1 (PD-1)', values: PDCD1 }]);
heatGroup(59, 101, 793, 973, [{ name: 'NECTIN2', values: NECTIN2 }, { name: 'TIGIT', values: TIGIT }, { name: 'CD226', label: 'CD226 (DNAM-1)', values: CD226 }, { name: 'PVRIG', values: PVRIG }]);
heatGroup(106, 148, 793, 973, [{ name: 'CD80', values: CD80 }, { name: 'CD86', values: CD86 }, { name: 'CTLA4', values: CTLA4 }, { name: 'CD28', values: CD28 }]);
heatGroup(150, 171, 793, 973, [{ name: 'CD200', values: CD200 }, { name: 'CD200R1', values: CD200R1 }]);
heatGroup(176, 197, 793, 973, [{ name: 'LGALS9', values: LGALS9 }, { name: 'HAVCR2', label: 'HAVCR2 (TIM-3)', values: HAVCR2 }]);
function rowLabels(ch, x, boldName) {
    cellTypes.forEach((c, i) => {
        txt(c, x, pageY(ch, i + 0.5), { size: 10, align: 'l', color: '#333', bold: c === boldName });
    });
}
rowLabels(g1, 143, 'neutrophils');
rowLabels(j1, 198, 'mReg DCs');
function heatLegend(xc, yText, x, y, w, h, yLab) {
    txt('gene expression', xc, yText, { size: 9.5, color: '#333' });
    rect(x, y, w, h, 'background:linear-gradient(90deg,' + heatColors.join(',') + ')');
    txt('low', x + 2, yLab, { size: 9.5, color: '#333' });
    txt('high', x + w, yLab, { size: 9.5, color: '#333' });
}
heatLegend(217, 724, 196, 729, 40, 8, 743);
heatLegend(237, 1003, 215, 1008, 40.7, 8.5, 1021);

// ---- I / L
function errorPanel(l, t, r, b, min, max, step, x1, means, lows, highs, meanR, fmt) {
    const capSet = (vals) => ({ type: 'scatter', data: vals.map((v, i) => ({ x: i + 1, y: v })), pointStyle: 'line', pointRadius: 5.7, pointBorderColor: '#555', pointBorderWidth: 1 });
    place(l, t, r, b, { l: 40 }, {
        data: { datasets: [
            { type: 'scatter', data: means.map((v, i) => ({ x: i + 1, y: v })), pointStyle: 'line', pointRadius: meanR, pointBorderColor: '#444', pointBorderWidth: 1.8 },
            capSet(lows),
            capSet(highs),
            { type: 'line', data: [{ x: 1, y: lows[0] }, { x: 1, y: highs[0] }], borderColor: '#555', borderWidth: 1, pointRadius: 0 },
            { type: 'line', data: [{ x: 2, y: lows[1] }, { x: 2, y: highs[1] }], borderColor: '#555', borderWidth: 1, pointRadius: 0 }
        ] },
        options: {
            scales: {
                x: {
                    type: 'linear', min: x1[0], max: x1[1],
                    afterBuildTicks: s => { s.ticks = [{ value: 1 }, { value: 2 }]; },
                    ticks: { callback: () => '', padding: 0 },
                    grid: { drawOnChartArea: false, tickLength: 4, color: '#222' }, border: { color: '#222', width: 1.2 }, afterFit: fit(0)
                },
                y: {
                    type: 'linear', min: min, max: max,
                    afterBuildTicks: s => { const t = []; for (let k = 0; k <= Math.round((max - min) / step); k++) t.push({ value: min + k * step }); s.ticks = t; },
                    ticks: { callback: v => v.toFixed(fmt), color: '#222', font: { size: 7.5, weight: 'bold' }, padding: 1, autoSkip: false },
                    grid: { drawOnChartArea: false, tickLength: 5, color: '#222' }, border: { color: '#222', width: 1.2 }, afterFit: fit(40)
                }
            }
        }
    });
}
function foldPanel(l, t, r, b, min, max, step, fold) {
    place(l, t, r, b, { l: 20 }, {
        data: { labels: ['NK/CD8T vs other'], datasets: [
            { type: 'line', data: [fold[1]], showLine: false, pointStyle: 'line', pointRadius: 8, pointBorderColor: '#555', pointBorderWidth: 1, order: 1 },
            { type: 'line', data: [fold[2]], showLine: false, pointStyle: 'line', pointRadius: 8, pointBorderColor: '#555', pointBorderWidth: 1, order: 1 },
            { type: 'bar', data: [[fold[1], fold[2]]], backgroundColor: '#555', barThickness: 1, grouped: false, order: 2 },
            { type: 'bar', data: [fold[0]], backgroundColor: '#d3d3d3', borderColor: '#666', borderWidth: 1, barThickness: 33, grouped: false, order: 3 }
        ] },
        options: {
            scales: {
                x: { type: 'category', ticks: { callback: () => '', padding: 0 }, grid: { drawOnChartArea: false, tickLength: 4, color: '#222' }, border: { color: '#222', width: 1.2 }, afterFit: fit(0) },
                y: {
                    type: 'linear', min: min, max: max,
                    afterBuildTicks: s => { const t = []; for (let k = 0; k <= Math.round((max - min) / step); k++) t.push({ value: min + k * step }); s.ticks = t; },
                    ticks: { callback: v => v.toFixed(1), color: '#222', font: { size: 8, weight: 'bold' }, padding: 1, autoSkip: false },
                    grid: { drawOnChartArea: false, tickLength: 5, color: '#222' }, border: { color: '#222', width: 1.2 }, afterFit: fit(20)
                }
            }
        }
    });
}
errorPanel(586, 567, 669, 691, 0.026, 0.03, 0.001, [0.339, 2.67], iRaw, iRawLo, iRawHi, 11, 3);
foldPanel(694, 565, 763, 691, 1, 1.2, 0.1, iFold);
txt('Neutrophils deconvolution score', 668, 542, { size: 10.5, color: '#333' });
txt('p=0.00013', 625, 569, { size: 10.5, color: '#333' });
txt('Raw values', 547, 634, { size: 10.5, rotate: -90, color: '#333' });
txt('Fold change', 666, 632, { size: 10.5, rotate: -90, color: '#333' });
txt('NK/CD8T other', 623, 705, { size: 10.5, color: '#333' });
txt('neighborhood', 628, 719, { size: 10.5, color: '#333' });
txt('NK/CD8T vs other', 733, 704, { size: 10.5, color: '#333' });
txt('neighborhood', 733, 718, { size: 10.5, color: '#333' });

errorPanel(584, 832, 667, 957, 0.003, 0.006, 0.001, [0.328, 2.66], lRaw, lRawLo, lRawHi, 12, 3);
foldPanel(694, 829, 762, 954, 1, 1.6, 0.2, lFold);
txt('mReg DCs deconvolution score', 669, 803, { size: 10.5, color: '#333' });
txt('p=3e-07', 617, 831, { size: 10.5, color: '#333' });
txt('Raw values', 547, 897, { size: 10.5, rotate: -90, color: '#333' });
txt('Fold change', 665, 894, { size: 10.5, rotate: -90, color: '#333' });
txt('NK/CD8T', 607, 967, { size: 10.5, color: '#333' });
txt('other', 649, 967, { size: 10.5, color: '#333' });
txt('neighborhood', 628, 981, { size: 10.5, color: '#333' });
txt('NK/CD8T vs other', 733, 966, { size: 10.5, color: '#333' });
txt('neighborhood', 733, 980, { size: 10.5, color: '#333' });

// ---- panel letters
[['A', 7, 14], ['B', 303, 14], ['C', 6, 162], ['D', 247, 163], ['E', 450, 162], ['F', 450, 375], ['G', 7, 545], ['H', 313, 545], ['I', 547, 544], ['J', 7, 795], ['K', 313, 795], ['L', 550, 793]].forEach(p => {
    txt(p[0], p[1], p[2], { size: 15, bold: true, color: '#000' });
});
</script>
</body>
</html>
